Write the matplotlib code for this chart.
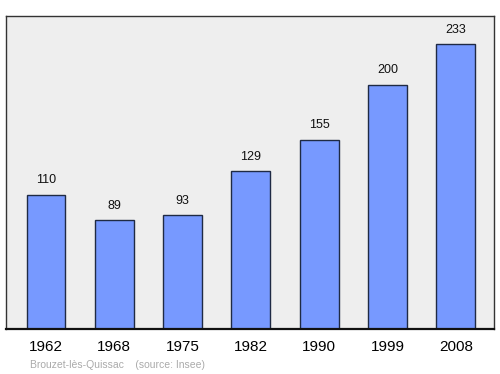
import matplotlib
matplotlib.use('Agg')
import matplotlib.pyplot as plt

# Population data
years = ['1962', '1968', '1975', '1982', '1990', '1999', '2008']
population = [110, 89, 93, 129, 155, 200, 233]

plt.rcParams['font.family'] = ['Liberation Sans', 'DejaVu Sans']

fig = plt.figure(figsize=(5, 3.74), dpi=100)
fig.patch.set_facecolor('white')
ax = fig.add_axes([0.012, 0.1203, 0.976, 0.837])
ax.set_facecolor('#eeeeee')

x = range(len(years))
ax.bar(x, population, width=0.57, color='#7799ff', edgecolor='#1f2a44', linewidth=1)

for i, v in enumerate(population):
    ax.annotate(str(v), (i, v), xytext=(0, 6), textcoords='offset points',
                ha='center', va='bottom', fontsize=9, color='#111111')

ax.set_xlim(-0.586, 6.56)
ax.set_ylim(0, max(population) * 1.1)
ax.set_yticks([])
ax.set_xticks(list(x))
ax.set_xticklabels(years, fontsize=11)
ax.tick_params(axis='x', length=0, pad=8)

for side in ['top', 'left', 'right']:
    ax.spines[side].set_color('#333333')
    ax.spines[side].set_linewidth(1)
ax.spines['bottom'].set_color('#111111')
ax.spines['bottom'].set_linewidth(1.6)

fig.text(30 / 500, 1 - 365 / 374, 'Brouzet-lès-Quissac    (source: Insee)',
         fontsize=7.5, color='#aaaaaa', va='center', ha='left')

fig.savefig('out.png', dpi=100)
